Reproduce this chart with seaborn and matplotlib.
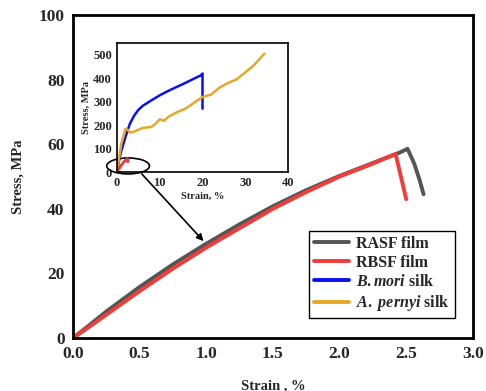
import matplotlib
matplotlib.use('Agg')
import matplotlib.pyplot as plt
import seaborn as sns
import pandas as pd
from matplotlib.patches import Ellipse, ConnectionPatch
from matplotlib.ticker import MultipleLocator

# stress-strain data
rasf_strain = [0, 0.1, 0.25, 0.5, 0.75, 1.0, 1.25, 1.5, 1.75, 2.0, 2.25, 2.45, 2.51, 2.56, 2.6, 2.63]
rasf_stress = [0, 3.2, 8.2, 15.8, 22.8, 29.2, 35.2, 40.8, 45.8, 50.2, 54.2, 57.4, 58.6, 54, 49, 44.5]
rbsf_strain = [0, 0.1, 0.25, 0.5, 0.75, 1.0, 1.25, 1.5, 1.75, 2.0, 2.25, 2.42, 2.46, 2.5]
rbsf_stress = [0, 2.8, 7.2, 14.5, 21.5, 28, 34, 40, 45.2, 50, 54, 57, 50, 43]
bmori_strain = [0, 0.5, 1, 2, 3, 4, 5, 6, 8, 10, 12, 14, 16, 18, 19.6, 20, 20]
bmori_stress = [0, 50, 90, 150, 205, 240, 265, 282, 305, 327, 346, 363, 380, 398, 412, 420, 270]
apernyi_strain = [0, 1, 2, 2.5, 3, 4, 5, 6, 7, 8, 9, 10, 11, 12, 14, 16, 18, 20, 22, 24, 26, 28, 30, 32, 34.5]
apernyi_stress = [0, 120, 185, 180, 168, 172, 180, 188, 190, 192, 205, 225, 218, 235, 255, 270, 295, 320, 330, 360, 380, 395, 425, 455, 505]

labels = ['RASF film', 'RBSF film', r'$\mathit{B.mori}$ silk', r'$\mathit{A.}$ $\mathit{pernyi}$ silk']
colors = ['#555555', '#f23c3c', '#0a10f0', '#e6a826']

sns.set_style('white')
plt.rcParams['font.family'] = ['Liberation Serif', 'DejaVu Serif']
plt.rcParams['font.weight'] = 'bold'
plt.rcParams['axes.labelweight'] = 'bold'
plt.rcParams['mathtext.fontset'] = 'custom'
plt.rcParams['mathtext.it'] = 'Liberation Serif:bold:italic'
plt.rcParams['mathtext.rm'] = 'Liberation Serif:bold'

series = [(rasf_strain, rasf_stress), (rbsf_strain, rbsf_stress),
          (bmori_strain, bmori_stress), (apernyi_strain, apernyi_stress)]

fig = plt.figure(figsize=(4.86, 3.91), dpi=100)
ax = fig.add_axes([0.150, 0.1355, 0.823, 0.826])

for (x, y), lab, c in zip(series[:2], labels[:2], colors[:2]):
    df = pd.DataFrame({'strain': x, 'stress': y})
    sns.lineplot(data=df, x='strain', y='stress', sort=False, estimator=None,
                 color=c, lw=2.8, ax=ax, label=lab)
# dummy entries for the silks so they show in the legend
for lab, c in zip(labels[2:], colors[2:]):
    ax.plot([], [], color=c, lw=2.8, label=lab)

ax.set_xlim(0, 3.0)
ax.set_ylim(0, 100)
ax.xaxis.set_major_locator(MultipleLocator(0.5))
ax.xaxis.set_minor_locator(MultipleLocator(0.25))
ax.yaxis.set_major_locator(MultipleLocator(20))
ax.yaxis.set_minor_locator(MultipleLocator(10))
ax.tick_params(which='major', direction='out', length=4, width=1.5, labelsize=12.5, pad=2)
ax.tick_params(which='minor', direction='in', length=3, width=1.2)
ax.xaxis.set_major_formatter(matplotlib.ticker.FormatStrFormatter('%.1f'))
for lbl in ax.get_xticklabels() + ax.get_yticklabels():
    lbl.set_fontweight('bold')
for s in ax.spines.values():
    s.set_linewidth(2)
    s.set_color('black')
ax.set_xlabel('Strain , %', fontsize=10.5, labelpad=12)
ax.set_ylabel('Stress, MPa', fontsize=10.5, labelpad=10)

leg = ax.legend(loc='lower left', bbox_to_anchor=(0.59, 0.062), fontsize=11.5,
                frameon=True, fancybox=False, framealpha=1, edgecolor='black',
                handlelength=2.2, handletextpad=0.45, borderpad=0.3, labelspacing=0.2,
                borderaxespad=0)
leg.get_frame().set_linewidth(1)
for t in leg.get_texts():
    t.set_fontweight('bold')

# inset with the natural silks
ins = fig.add_axes([0.2407, 0.560, 0.352, 0.330])
order = [2, 3, 0, 1]
for i in order:
    x, y = series[i]
    df = pd.DataFrame({'strain': x, 'stress': y})
    sns.lineplot(data=df, x='strain', y='stress', sort=False, estimator=None,
                 color=colors[i], lw=1.8, ax=ins)
ins.set_xlim(0, 40)
ins.set_ylim(0, 550)
ins.xaxis.set_major_locator(MultipleLocator(10))
ins.xaxis.set_minor_locator(MultipleLocator(5))
ins.yaxis.set_major_locator(MultipleLocator(100))
ins.yaxis.set_minor_locator(MultipleLocator(50))
ins.tick_params(which='major', direction='out', length=2.5, width=1, labelsize=9, pad=1)
ins.tick_params(which='minor', direction='in', length=2, width=0.8)
for lbl in ins.get_xticklabels() + ins.get_yticklabels():
    lbl.set_fontweight('bold')
for s in ins.spines.values():
    s.set_linewidth(1.2)
    s.set_color('black')
ins.set_xlabel('Strain, %', fontsize=7.5, labelpad=2)
ins.set_ylabel('Stress, MPa', fontsize=7.5, labelpad=2)

ell = Ellipse((2.6, 26), 10, 68, fill=False, edgecolor='black', lw=1.2, clip_on=False)
ins.add_patch(ell)
con = ConnectionPatch(xyA=(5.8, -8), coordsA=ins.transData,
                      xyB=(0.98, 30), coordsB=ax.transData,
                      arrowstyle='-|>', mutation_scale=10, lw=1.2, color='black')
fig.add_artist(con)

plt.savefig('out.png', dpi=100)
